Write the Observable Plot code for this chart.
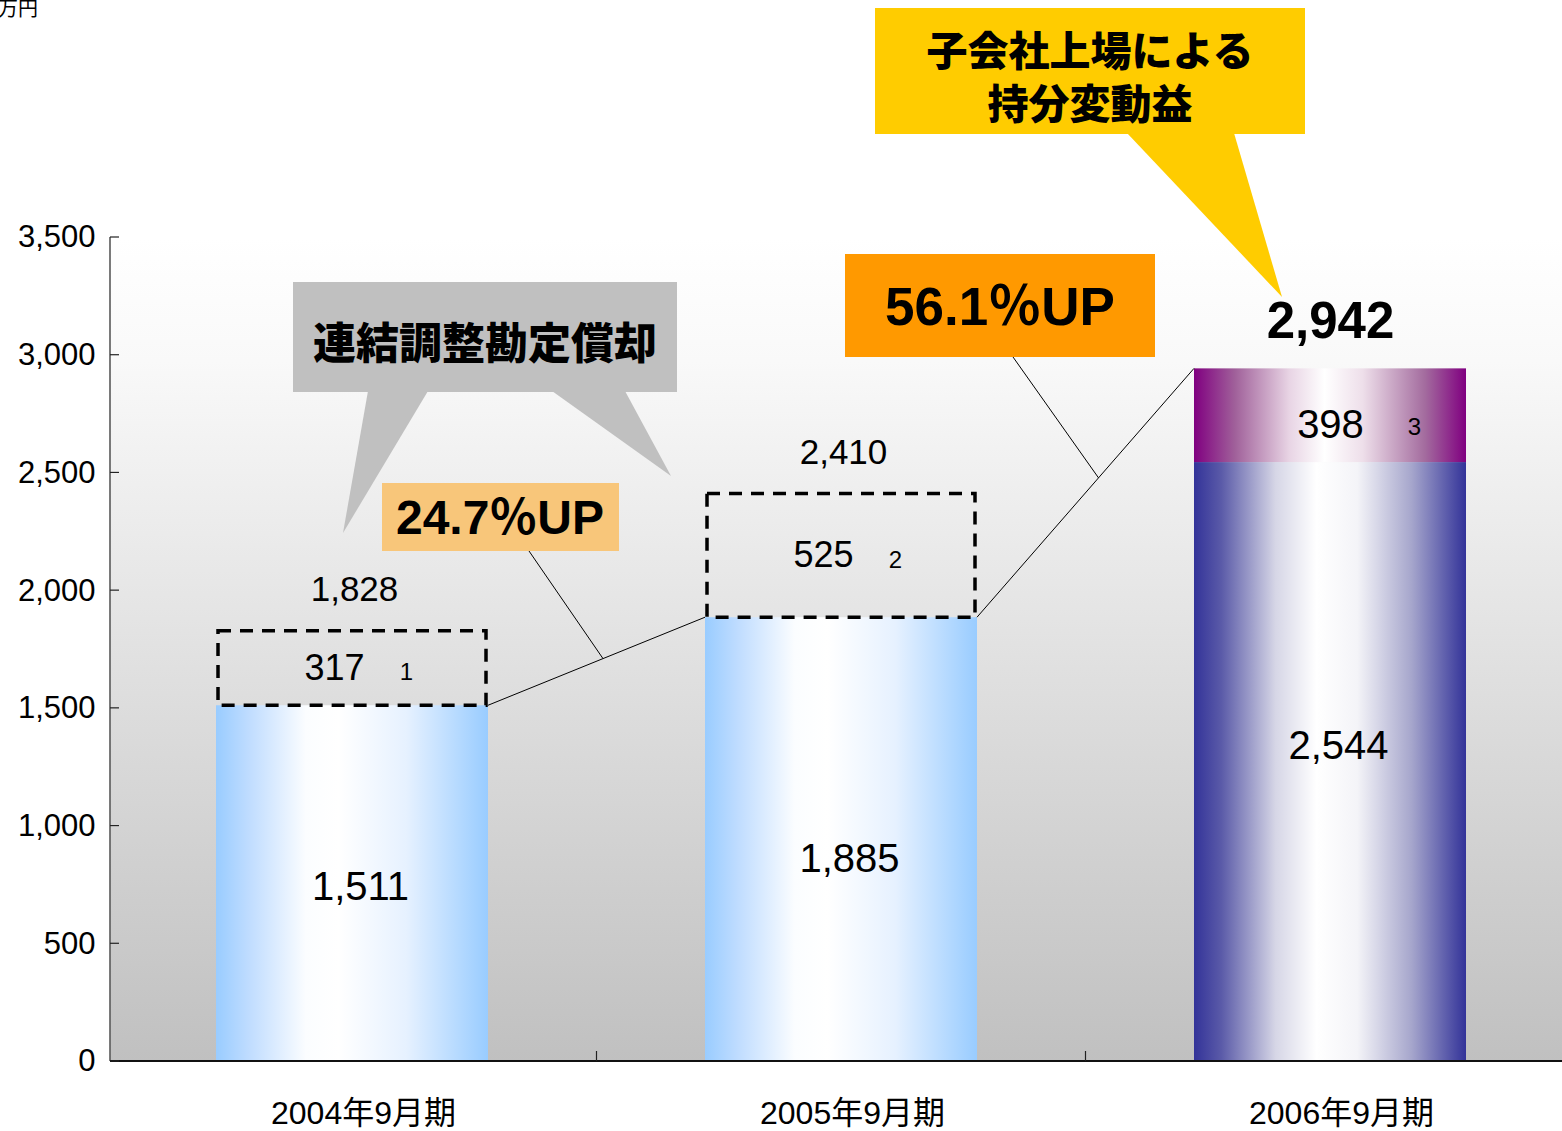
<!DOCTYPE html>
<html><head><meta charset="utf-8">
<script src="https://cdn.jsdelivr.net/npm/d3@7"></script>
<script src="https://cdn.jsdelivr.net/npm/@observablehq/plot@0.6"></script>
<style>
html,body{margin:0;padding:0;background:#fff;overflow:hidden;width:1562px;height:1131px;}
#chart{position:absolute;left:0;top:0;}
#chart svg{max-width:none !important;height:1131px !important;width:1576px !important;}
</style></head><body><div id="chart"></div>
<script>
// ---- data ----
const periods = ["2004年9月期", "2005年9月期", "2006年9月期"];
const baseValues = [1511, 1885, 2544];
const addedValues = [317, 525, 398];
const totalValues = [1828, 2410, 2942];
const noteMarks = ["1", "2", "3"];
const addedKinds = ["goodwill", "goodwill", "equity"];
const yTicks = [0, 500, 1000, 1500, 2000, 2500, 3000, 3500];
const unitLabel = "百万円";
const growthLabels = ["24.7％UP", "56.1％UP"];
const grayCalloutText = ["連結調整勘定償却"];
const yellowCalloutText = ["子会社上場による", "持分変動益"];

const rows = periods.map((p, i) => ({
  period: p, base: baseValues[i], added: addedValues[i], total: totalValues[i],
  note: noteMarks[i], kind: addedKinds[i]
}));
const goodwill = rows.filter(d => d.kind === "goodwill");
const equity = rows.filter(d => d.kind === "equity");
const fmt = d3.format(",");

// ---- layout (annotation placement, pixels) ----
const FONT = "'Liberation Sans','Noto Sans CJK JP',sans-serif";
const NARROW = "'Liberation Sans Narrow','Liberation Sans',sans-serif";
const CJK = "'Noto Sans CJK JP','Liberation Sans',sans-serif";
const baseLabelDy = [4, 20, -16];
const callouts = {
  gray: {box: [293, 282, 677, 392], fill: "#c0c0c0",
    tails: [[[368, 391], [428, 391], [343, 533]], [[552, 391], [625, 391], [671, 476]]],
    text: grayCalloutText, cx: 485, cy: 340, lineGap: 0, size: 43},
  yellow: {box: [875, 8, 1305, 134], fill: "#ffcc00",
    tails: [[[1127, 133], [1234, 133], [1282, 297]]],
    text: yellowCalloutText, cx: 1090, cy: 48, lineGap: 53, size: 41}
};
const upBoxes = [
  {box: [382, 483, 619, 551], fill: "#f8c67a", from: [529, 551], t: 0.53, size: 48, cx: 500, cy: 517},
  {box: [845, 254, 1155, 357], fill: "#ff9900", from: [1013, 357], t: 0.56, size: 53, cx: 1000, cy: 306}
];

function defs() {
  const d = d3.create("svg:defs");
  const grad = (id, stops, vertical) => {
    const g = d.append("linearGradient").attr("id", id)
      .attr("x1", 0).attr("y1", 0).attr("x2", vertical ? 0 : 1).attr("y2", vertical ? 1 : 0);
    stops.forEach(([o, c]) => g.append("stop").attr("offset", o).attr("stop-color", c));
  };
  grad("bgGrad", [[0, "#ffffff"], [0.15, "#f9f9f9"], [1, "#c0c0c0"]], true);
  grad("blueGrad", [[0, "#99ccff"], [0.12, "#bfdcff"], [0.33, "#fbfdff"], [0.45, "#ffffff"], [0.7, "#e6f1ff"], [1, "#99ccff"]]);
  grad("navyGrad", [[0, "#333399"], [0.1, "#5a5aa8"], [0.3, "#d6d6e6"], [0.45, "#ffffff"], [0.6, "#f4f4f8"], [0.8, "#a6a6cc"], [1, "#333399"]]);
  grad("purpleGrad", [[0, "#800080"], [0.15, "#a0609a"], [0.35, "#e8d4e4"], [0.48, "#ffffff"], [0.62, "#eedfea"], [0.85, "#a36b9e"], [1, "#800080"]]);
  return d.node();
}

function axesLines(index, scales, values, dim) {
  const {x, y} = scales;
  const g = d3.create("svg:g");
  const left = dim.marginLeft, bottom = dim.height - dim.marginBottom, top = dim.marginTop;
  g.append("line").attr("x1", left).attr("x2", left).attr("y1", top).attr("y2", bottom)
    .attr("stroke", "#222").attr("stroke-width", 1.2);
  g.append("line").attr("x1", left).attr("x2", dim.width).attr("y1", bottom).attr("y2", bottom)
    .attr("stroke", "#111").attr("stroke-width", 2);
  yTicks.forEach(t => g.append("line").attr("x1", left).attr("x2", left + 9)
    .attr("y1", y(t)).attr("y2", y(t)).attr("stroke", "#222").attr("stroke-width", 1.2));
  const bw = x.bandwidth(), step = x.step();
  periods.slice(0, -1).forEach(p => {
    const bx = x(p) + bw + (step - bw) / 2;
    g.append("line").attr("x1", bx).attr("x2", bx).attr("y1", bottom).attr("y2", bottom - 10)
      .attr("stroke", "#222").attr("stroke-width", 1.2);
  });
  return g.node();
}

function annotations(index, scales, values, dim) {
  const {x, y} = scales;
  const bw = x.bandwidth();
  const g = d3.create("svg:g");
  const conns = [
    [[x(periods[0]) + bw, y(baseValues[0])], [x(periods[1]), y(baseValues[1])]],
    [[x(periods[1]) + bw, y(baseValues[1])], [x(periods[2]), y(totalValues[2])]]
  ];
  conns.forEach(([a, b]) => g.append("line").attr("x1", a[0]).attr("y1", a[1]).attr("x2", b[0]).attr("y2", b[1])
    .attr("stroke", "#000").attr("stroke-width", 1));
  Object.values(callouts).forEach(c => {
    const [x0, y0, x1, y1] = c.box;
    g.append("rect").attr("x", x0).attr("y", y0).attr("width", x1 - x0).attr("height", y1 - y0).attr("fill", c.fill);
    c.tails.forEach(t => g.append("polygon").attr("points", t.map(p => p.join(",")).join(" ")).attr("fill", c.fill));
    const txt = g.append("text").attr("text-anchor", "middle")
      .attr("dominant-baseline", "central").attr("font-family", CJK).attr("font-weight", 900)
      .attr("font-size", c.size).attr("fill", "#000");
    c.text.forEach((s, i) => txt.append("tspan").attr("x", c.cx).attr("y", c.cy + i * c.lineGap).text(s));
  });
  upBoxes.forEach((u, i) => {
    const [a, b] = conns[i];
    const tip = [a[0] + (b[0] - a[0]) * u.t, a[1] + (b[1] - a[1]) * u.t];
    g.append("line").attr("x1", u.from[0]).attr("y1", u.from[1]).attr("x2", tip[0]).attr("y2", tip[1])
      .attr("stroke", "#000").attr("stroke-width", 1);
    const [x0, y0, x1, y1] = u.box;
    g.append("rect").attr("x", x0).attr("y", y0).attr("width", x1 - x0).attr("height", y1 - y0).attr("fill", u.fill);
    g.append("text").attr("x", u.cx).attr("y", u.cy).attr("text-anchor", "middle")
      .attr("dominant-baseline", "central").attr("font-family", FONT).attr("font-weight", 700)
      .attr("font-size", u.size).attr("fill", "#000").text(growthLabels[i]);
  });
  g.append("text").attr("x", 38).attr("y", 16).attr("text-anchor", "end").attr("font-family", CJK)
    .attr("font-size", 20).attr("fill", "#000").text(unitLabel);
  return g.node();
}

const chart = Plot.plot({
  width: 1576, height: 1131,
  marginLeft: 110, marginRight: 0, marginTop: 237, marginBottom: 70,
  style: {fontFamily: FONT, fontSize: "30px", color: "#000", background: "transparent", overflow: "visible"},
  x: {domain: periods, range: [107, 1574], paddingInner: 0.444, paddingOuter: 0.222, label: null},
  y: {domain: [0, 3500], label: null},
  marks: [
    defs,
    Plot.frame({fill: "url(#bgGrad)", stroke: null}),
    Plot.barY(goodwill, {x: "period", y1: 0, y2: "base", fill: "url(#blueGrad)"}),
    Plot.barY(equity, {x: "period", y1: 0, y2: "base", fill: "url(#navyGrad)"}),
    Plot.barY(equity, {x: "period", y1: "base", y2: "total", fill: "url(#purpleGrad)"}),
    Plot.barY(goodwill, {x: "period", y1: "base", y2: "total", fill: "none", stroke: "#000",
      strokeWidth: 3.5, strokeDasharray: "13,9", insetLeft: 2, insetRight: 2}),
    axesLines,
    Plot.axisY({ticks: yTicks, tickSize: 0, tickPadding: 15, tickFormat: fmt, fontSize: 31, label: null}),
    Plot.axisX({tickSize: 0, tickPadding: 40, fontSize: 32, dx: 11, label: null}),
    ...rows.map((r, i) => Plot.text([r], {x: "period", y: d => d.base / 2, text: d => fmt(d.base), fontSize: 40, dx: 8, dy: baseLabelDy[i]})),
    Plot.text(goodwill, {x: "period", y: d => (d.base + d.total) / 2, text: d => fmt(d.added), fontSize: 36, dx: -18}),
    Plot.text(goodwill, {x: "period", y: d => (d.base + d.total) / 2, text: "note", fontSize: 24, fontFamily: NARROW, dx: 54, dy: 4}),
    Plot.text(equity, {x: "period", y: d => (d.base + d.total) / 2, text: d => fmt(d.added), fontSize: 40, dy: 9}),
    Plot.text(equity, {x: "period", y: d => (d.base + d.total) / 2, text: "note", fontSize: 24, fontFamily: NARROW, dx: 84, dy: 12}),
    Plot.text(goodwill, {x: "period", y: "total", text: d => fmt(d.total), fontSize: 35, dy: -41, dx: 2}),
    Plot.text(equity, {x: "period", y: "total", text: d => fmt(d.total), fontSize: 51, fontWeight: "bold", dy: -47}),
    annotations
  ]
});
document.getElementById("chart").appendChild(chart);
</script>
</body></html>
